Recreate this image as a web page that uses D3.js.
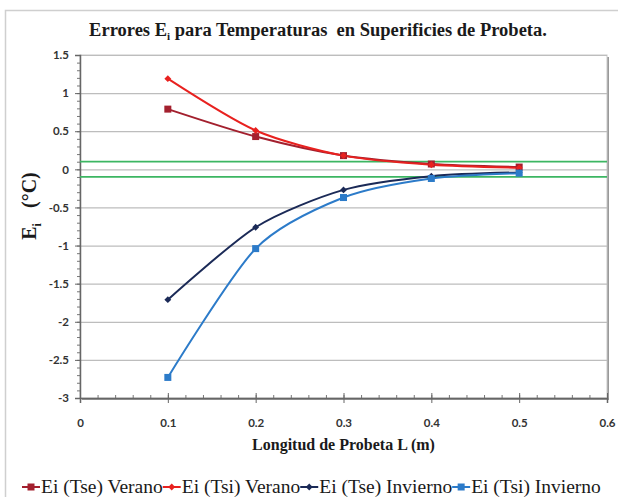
<!DOCTYPE html>
<html>
<head>
<meta charset="utf-8">
<script src="https://cdn.jsdelivr.net/npm/d3@7"></script>
<style>
  body { margin: 0; background: #fff; }
  svg { display: block; }
  .serif, .serif tspan { font-family: "Liberation Serif", "DejaVu Serif", serif; white-space: pre; }
</style>
</head>
<body>
<svg id="svg" width="618" height="497"></svg>
<script>
// longitud de probeta (m)
let lengths = [0.1, 0.2, 0.3, 0.4, 0.5];

let tseVerano = [0.79, 0.43, 0.18, 0.07, 0.03];
let tsiVerano = [1.19, 0.51, 0.18, 0.06, 0.02];
let tseInvierno = [-1.71, -0.76, -0.27, -0.09, -0.04];
let tsiInvierno = [-2.73, -1.04, -0.37, -0.12, -0.05];

let seriesNames = ["Ei (Tse) Verano", "Ei (Tsi) Verano", "Ei (Tse) Invierno", "Ei (Tsi) Invierno"];
let limits = [0.1, -0.1]; // franja de tolerancia

let xTicks = [0, 0.1, 0.2, 0.3, 0.4, 0.5, 0.6];
let yTicks = [1.5, 1, 0.5, 0, -0.5, -1, -1.5, -2, -2.5, -3];

let styles = [
  {color: "#a3202e", marker: "square", size: 7},
  {color: "#e8211f", marker: "diamond", size: 5},
  {color: "#1b2a57", marker: "diamond", size: 5},
  {color: "#2c7bc9", marker: "square", size: 7}
];

let svg = d3.select("#svg");
let plot = {left: 80, top: 55, right: 607, bottom: 398};

let xScale = d3.scaleLinear().domain([0, 0.6]).range([plot.left, plot.right]);
let yScale = d3.scaleLinear().domain([-3, 1.5]).range([plot.bottom, plot.top]);

// chart frame
svg.append("rect")
  .attr("x", 5.5).attr("y", 10.5)
  .attr("width", 640).attr("height", 520)
  .attr("fill", "none").attr("stroke", "#cfcfcf").attr("stroke-width", 1.5);

// plot area shadow + border
svg.append("rect")
  .attr("x", plot.left + 2).attr("y", plot.top + 2)
  .attr("width", plot.right - plot.left).attr("height", plot.bottom - plot.top)
  .attr("fill", "#9a9a9a");
svg.append("rect")
  .attr("x", plot.left).attr("y", plot.top)
  .attr("width", plot.right - plot.left).attr("height", plot.bottom - plot.top)
  .attr("fill", "#fff").attr("stroke", "#c8c8c8");

// grid lines
svg.append("g")
  .attr("class", "grid")
  .attr("transform", "translate(" + plot.left + ",0)")
  .call(d3.axisLeft(yScale).tickValues(yTicks).tickSize(-(plot.right - plot.left)).tickFormat(""))
  .call(g => g.select(".domain").remove())
  .call(g => g.selectAll("line").attr("stroke", "#bdbdbd").attr("stroke-width", 1.2));

// minor ticks
svg.append("g")
  .attr("transform", "translate(" + plot.left + ",0)")
  .call(d3.axisLeft(yScale).ticks(45).tickSize(3).tickFormat(""))
  .call(g => g.select(".domain").remove())
  .call(g => g.selectAll("line").attr("stroke", "#777"));
svg.append("g")
  .attr("transform", "translate(0," + plot.bottom + ")")
  .call(d3.axisTop(xScale).ticks(30).tickSize(3).tickFormat(""))
  .call(g => g.select(".domain").remove())
  .call(g => g.selectAll("line").attr("stroke", "#777"));

// axes (hyphen minus like the original)
let yAxis = svg.append("g")
  .attr("transform", "translate(" + plot.left + ",0)")
  .call(d3.axisLeft(yScale).tickValues(yTicks).tickSize(5).tickPadding(6).tickFormat(d => String(d)));
let xAxis = svg.append("g")
  .attr("transform", "translate(0," + plot.bottom + ")")
  .call(d3.axisBottom(xScale).tickValues(xTicks).tickSize(5).tickPadding(16).tickFormat(d => String(d)));
xAxis.selectAll(".tick line").attr("y1", -5);

[xAxis, yAxis].forEach(a => {
  a.select(".domain").attr("stroke", "#666").attr("stroke-width", 1.5);
  a.selectAll(".tick line").attr("stroke", "#666");
  a.selectAll("text")
    .attr("font-family", "Lato, 'Open Sans', sans-serif")
    .attr("font-weight", "bold")
    .attr("font-size", "11.5px")
    .attr("fill", "#333");
});

// tolerance lines
svg.append("g").selectAll("line").data(limits).enter()
  .append("line")
  .attr("x1", plot.left).attr("x2", plot.right)
  .attr("y1", d => yScale(d)).attr("y2", d => yScale(d))
  .attr("stroke", "#3cb662").attr("stroke-width", 1.8);

// series
let allSeries = [tseVerano, tsiVerano, tseInvierno, tsiInvierno];
let line = d3.line()
  .x((d, i) => xScale(lengths[i]))
  .y(d => yScale(d))
  .curve(d3.curveCardinal.tension(0.2));

function drawMarker(g, st, x, y) {
  if (st.marker === "square") {
    g.append("rect")
      .attr("x", x - st.size / 2).attr("y", y - st.size / 2)
      .attr("width", st.size).attr("height", st.size)
      .attr("fill", st.color);
  } else {
    g.append("path")
      .attr("d", d3.symbol(d3.symbolDiamond2, st.size * st.size * 1.2)())
      .attr("transform", "translate(" + x + "," + y + ")")
      .attr("fill", st.color);
  }
}

let seriesGroup = svg.append("g");
allSeries.forEach((values, k) => {
  let st = styles[k];
  seriesGroup.append("path")
    .datum(values)
    .attr("d", line)
    .attr("fill", "none")
    .attr("stroke", st.color)
    .attr("stroke-width", 2);
});
allSeries.forEach((values, k) => {
  values.forEach((v, i) => drawMarker(seriesGroup, styles[k], xScale(lengths[i]), yScale(v)));
});

// titles
let serifFont = "Liberation Serif, DejaVu Serif, serif";
let title = svg.append("text")
  .attr("class", "serif")
  .attr("font-family", serifFont)
  .attr("x", 318).attr("y", 36)
  .attr("text-anchor", "middle")
  .attr("font-weight", "bold")
  .attr("font-size", "18.5px")
  .attr("fill", "#1a1a1a");
title.append("tspan").text("Errores E");
title.append("tspan").attr("font-size", "11px").attr("dy", 4).text("i");
title.append("tspan").attr("dy", -4).text(" para Temperaturas  en Superificies de Probeta.");

svg.append("text")
  .attr("class", "serif")
  .attr("font-family", serifFont)
  .attr("x", xScale(0.3)).attr("y", 450)
  .attr("text-anchor", "middle")
  .attr("font-weight", "bold")
  .attr("font-size", "16px")
  .attr("fill", "#1a1a1a")
  .text("Longitud de Probeta L (m)");

let yTitle = svg.append("text")
  .attr("class", "serif")
  .attr("font-family", serifFont)
  .attr("transform", "translate(36,206) rotate(-90)")
  .attr("text-anchor", "middle")
  .attr("font-weight", "bold")
  .attr("font-size", "20px")
  .attr("fill", "#1a1a1a");
yTitle.append("tspan").text("E");
yTitle.append("tspan").attr("font-size", "12px").attr("dy", 5).text("i");
yTitle.append("tspan").attr("dy", -5).text("   (°C)");

// legend
let legend = svg.append("g").attr("transform", "translate(22,493)");
let lx = 0;
seriesNames.forEach((name, k) => {
  let st = styles[k];
  let item = legend.append("g").attr("transform", "translate(" + lx + ",0)");
  item.append("line")
    .attr("x1", 0).attr("x2", 18).attr("y1", -6).attr("y2", -6)
    .attr("stroke", st.color).attr("stroke-width", 2);
  drawMarker(item, st, 9, -6);
  let t = item.append("text")
    .attr("class", "serif")
    .attr("font-family", serifFont)
    .attr("x", 19).attr("y", 0)
    .attr("font-size", "19.5px")
    .attr("fill", "#1a1a1a")
    .text(name);
  lx += 19 + t.node().getComputedTextLength();
});
</script>
</body>
</html>
